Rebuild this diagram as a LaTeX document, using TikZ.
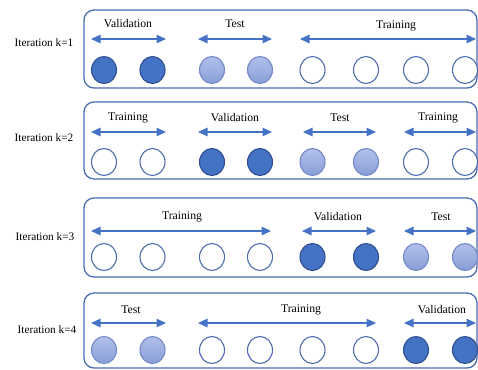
\documentclass[tikz,border=0pt]{standalone}
\usepackage{fontspec}
\setmainfont{Liberation Serif}
\usetikzlibrary{arrows.meta,shapes.geometric}
\definecolor{boxc}{HTML}{4A6CB3}
\definecolor{arrc}{HTML}{4472C4}
\definecolor{darkf}{HTML}{4472C4}
\definecolor{darko}{HTML}{2F4F8F}
\definecolor{medt}{HTML}{B2C1EA}
\definecolor{medb}{HTML}{889DD6}
\definecolor{medo}{HTML}{7389C9}
\definecolor{whto}{HTML}{4F6DAE}
\begin{document}
\begin{tikzpicture}[x=1pt,y=-1pt,
  fold/.style={draw=boxc, line width=1.3pt, rounded corners=10pt, minimum width=393pt, inner sep=0pt},
  ball/.style={ellipse, minimum width=25pt, minimum height=27pt, inner sep=0pt, line width=1.1pt},
  D/.style={ball, draw=darko, fill=darkf},
  M/.style={ball, draw=medo, top color=medt, bottom color=medb},
  W/.style={ball, draw=whto, fill=white},
  span/.style={draw=arrc, line width=1.2pt, {Triangle[length=9.5pt,width=8.5pt]}-{Triangle[length=9.5pt,width=8.5pt]}},
  lab/.style={font=\fontsize{11.7}{14}\selectfont, inner sep=0pt},
  iter/.style={font=\fontsize{11.3}{13}\selectfont, inner sep=0pt}]
\useasboundingbox (0,0) rectangle (478,369);

% boxes
\node[fold, minimum height=78pt] (box1) at (280.5,49) {};
\node[fold, minimum height=77pt] (box2) at (280.5,140.5) {};
\node[fold, minimum height=79pt] (box3) at (280.5,237.5) {};
\node[fold, minimum height=75pt] (box4) at (280.5,330.5) {};

% iteration labels
\node[iter] (it1) at (44,43) {Iteration k=1};
\node[iter] (it2) at (44,138) {Iteration k=2};
\node[iter] (it3) at (45,237) {Iteration k=3};
\node[iter] (it4) at (47,330) {Iteration k=4};

% circles
\foreach \x/\s [count=\i] in {104/D,152.5/D,212/M,260/M,312.5/W,366/W,416/W,465/W}
  \node[\s] (c1-\i) at (\x,70) {};
\foreach \x/\s [count=\i] in {104/W,152.5/W,212/D,260/D,312.5/M,366/M,416/W,465/W}
  \node[\s] (c2-\i) at (\x,162) {};
\foreach \x/\s [count=\i] in {104/W,152.5/W,212/W,260/W,312.5/D,366/D,416/M,465/M}
  \node[\s] (c3-\i) at (\x,257) {};
\foreach \x/\s [count=\i] in {104/M,152.5/M,212/W,260/W,312.5/W,366/W,416/D,465/D}
  \node[\s] (c4-\i) at (\x,350) {};

% row 1 arrows and labels
\coordinate (r1a) at (91,39);  \coordinate (r1b) at (166,39);
\coordinate (r1c) at (198,39); \coordinate (r1d) at (272,39);
\coordinate (r1e) at (300,39); \coordinate (r1f) at (476,39);
\draw[span] (r1a) -- (r1b);
\draw[span] (r1c) -- (r1d);
\draw[span] (r1e) -- (r1f);
\node[lab] (l1a) at (128,24) {Validation};
\node[lab] (l1b) at (235,24) {Test};
\node[lab] (l1c) at (396,26) {Training};

% row 2
\coordinate (r2a) at (91,132);  \coordinate (r2b) at (166,132);
\coordinate (r2c) at (198,132); \coordinate (r2d) at (272,132);
\coordinate (r2e) at (303,132); \coordinate (r2f) at (376,132);
\coordinate (r2g) at (404,132); \coordinate (r2h) at (476,132);
\draw[span] (r2a) -- (r2b);
\draw[span] (r2c) -- (r2d);
\draw[span] (r2e) -- (r2f);
\draw[span] (r2g) -- (r2h);
\node[lab] (l2a) at (128,118) {Training};
\node[lab] (l2b) at (235,118) {Validation};
\node[lab] (l2c) at (340,118) {Test};
\node[lab] (l2d) at (438,118) {Training};

% row 3
\coordinate (r3a) at (91,231);  \coordinate (r3b) at (271,231);
\coordinate (r3c) at (302,231); \coordinate (r3d) at (376,231);
\coordinate (r3e) at (404,231); \coordinate (r3f) at (476,231);
\draw[span] (r3a) -- (r3b);
\draw[span] (r3c) -- (r3d);
\draw[span] (r3e) -- (r3f);
\node[lab] (l3a) at (182,217) {Training};
\node[lab] (l3b) at (338,217) {Validation};
\node[lab] (l3c) at (441,217) {Test};

% row 4
\coordinate (r4a) at (91,323);  \coordinate (r4b) at (166,323);
\coordinate (r4c) at (198,323); \coordinate (r4d) at (376,323);
\coordinate (r4e) at (404,323); \coordinate (r4f) at (476,323);
\draw[span] (r4a) -- (r4b);
\draw[span] (r4c) -- (r4d);
\draw[span] (r4e) -- (r4f);
\node[lab] (l4a) at (131,310) {Test};
\node[lab] (l4b) at (301,310) {Training};
\node[lab] (l4c) at (442,310) {Validation};
\end{tikzpicture}
\end{document}
